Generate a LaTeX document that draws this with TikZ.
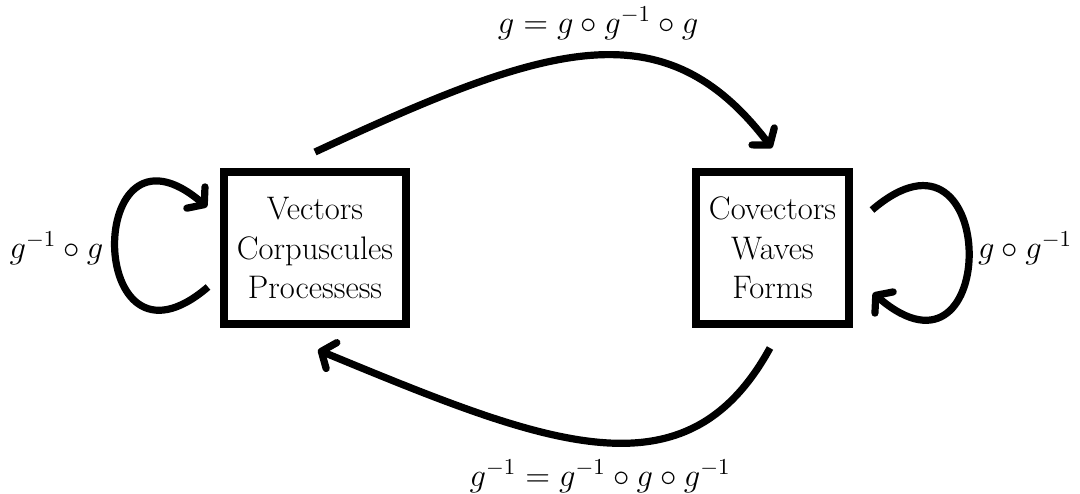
\RequirePackage{fix-cm}
\documentclass[tikz,border=0pt]{standalone}
\usetikzlibrary{arrows.meta,calc}
\begin{document}
\begin{tikzpicture}[x=0.5pt,y=-0.5pt,
  every node/.style={font=\fontsize{16.3}{19.75}\selectfont},
  box/.style={draw,line width=4pt,align=center,inner sep=0pt,minimum height=76pt},
  arr/.style={line width=3.6pt,-{Straight Barb[length=5.5pt,width=14pt,round]}},
  lbl/.style={anchor=base,inner sep=0pt}]
\useasboundingbox (0,0) rectangle (1080,493);
\node[box,minimum width=91pt] (L) at (315,248) {Vectors\\Corpuscules\\Processess};
\node[box,minimum width=76.5pt] (R) at (772.5,248) {Covectors\\Waves\\Forms};
% top arrow
\coordinate (ts) at ($(L.north)+(0,-16)$);
\coordinate (te) at ($(R.north)+(-0.5,-20)$);
\draw[arr] (ts) .. controls (545,45) and (663,5) .. (te);
% bottom arrow
\coordinate (bs) at ($(R.south)+(-2.5,20)$);
\coordinate (be) at ($(L.south)+(3,22)$);
\draw[arr] (bs) .. controls (686,501) and (548,445) .. (be);
% left loop
\coordinate (ls) at ($(L.west)+(-12,39)$);
\coordinate (le) at ($(L.west)+(-13,-41)$);
\draw[arr] (ls) .. controls (85,392) and (84,102) .. (le);
% right loop
\coordinate (rs) at ($(R.east)+(19,-38)$);
\coordinate (re) at ($(R.east)+(20,45)$);
\draw[arr] (rs) .. controls (1000,100) and (1001,403) .. (re);
% labels
\node[lbl] (t1) at (598,33) {$g=g\circ g^{-1}\circ g$};
\node[lbl] (t2) at (600,486) {$g^{-1}=g^{-1}\circ g\circ g^{-1}$};
\node[lbl] (t3) at (56.5,258) {$g^{-1}\circ g$};
\node[lbl] (t4) at (1025,258) {$g\circ g^{-1}$};
\end{tikzpicture}
\end{document}
